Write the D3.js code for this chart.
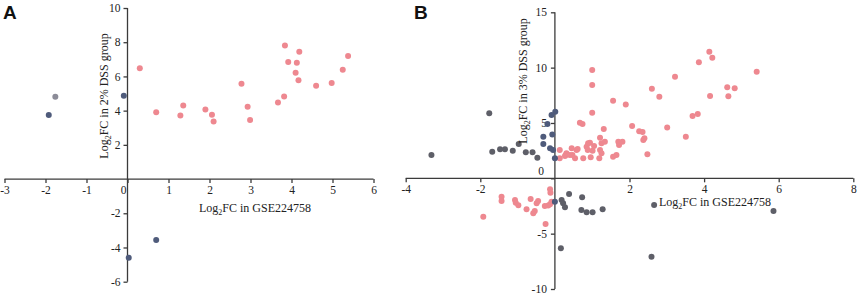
<!DOCTYPE html>
<html>
<head>
<meta charset="utf-8">
<script src="https://cdn.jsdelivr.net/npm/d3@7"></script>
<style>
  body { margin: 0; background: #fff; }
  svg { display: block; }
  .tick text { font-family: "Liberation Serif", "Times New Roman", serif; font-size: 11.5px; fill: #222; }
  .axis path, .axis line { stroke: #3b3b3b; stroke-width: 1.3; }
  .title { font-family: "Liberation Serif", "Times New Roman", serif; font-size: 12px; fill: #222; }
  .panel { font-family: "Liberation Sans", Arial, sans-serif; font-weight: bold; font-size: 19px; fill: #111; }
</style>
</head>
<body>
<svg id="chart" width="858" height="294"></svg>
<script>
// ---- data (log2 fold changes) ----
// panel A: x = GSE224758, y = 2% DSS group
var aUp = [[0.30, 6.48], [0.70, 3.90], [1.29, 3.72], [1.36, 4.30], [1.90, 4.07], [2.06, 3.76],
  [2.10, 3.37], [2.78, 5.57], [2.93, 4.23], [2.99, 3.45], [3.67, 4.48], [3.82, 4.83],
  [3.84, 7.81], [3.92, 6.85], [4.13, 6.80], [4.10, 6.21], [4.17, 5.78], [4.19, 7.44],
  [4.60, 5.45], [4.98, 5.61], [5.25, 6.39], [5.38, 7.20]];
var aGrey = [[-1.76, 4.81]];
var aBlue = [[-1.92, 3.74], [-0.09, 4.87], [0.03, -4.60], [0.70, -3.56]];
var aXTicks = [-3, -2, -1, 0, 1, 2, 3, 4, 5, 6];
var aYTicks = [-6, -4, -2, 2, 4, 6, 8, 10];

// panel B: x = GSE224758, y = 3% DSS group
var bUp = [[0.13, 2.56], [0.13, 1.81], [0.29, 2.10], [0.31, 2.26], [0.27, 2.01], [0.40, 2.10],
  [0.45, 2.71], [0.47, 2.10], [0.58, 2.56], [0.61, 2.65], [0.54, 1.81], [0.76, 1.81],
  [0.96, 1.90], [0.85, 2.86], [0.89, 3.16], [0.94, 3.22], [0.88, 2.56], [1.01, 2.49],
  [1.05, 2.92], [1.21, 2.56], [1.25, 2.26], [1.25, 3.16], [1.34, 3.31], [1.21, 3.67],
  [1.31, 4.45], [1.56, 1.95], [1.65, 2.10], [1.70, 3.31], [1.72, 3.00], [1.81, 3.31],
  [1.19, 1.81], [0.67, 5.02], [0.74, 4.90], [1.00, 5.93], [1.00, 8.43], [1.00, 9.78],
  [1.56, 7.01], [1.90, 6.68], [2.07, 4.72], [2.26, 4.25], [2.35, 4.18], [2.37, 3.46],
  [2.40, 3.61], [2.48, 2.17], [2.60, 8.10], [2.80, 7.37], [3.01, 4.60], [3.51, 3.76],
  [3.69, 5.63], [3.83, 5.81], [4.16, 7.43], [4.14, 11.44], [4.22, 10.90], [3.86, 10.48],
  [5.41, 9.63], [3.22, 9.18], [4.62, 8.22], [4.82, 8.13], [4.65, 7.41]];
var bDown = [[-0.13, -0.99], [-0.12, -1.30], [-1.43, -1.66], [-1.43, -2.05], [-1.07, -1.96],
  [-1.05, -2.20], [-0.98, -2.44], [-0.65, -1.87], [-0.76, -2.80], [-0.58, -3.16],
  [-0.54, -2.95], [-0.49, -2.26], [-0.45, -2.05], [-0.27, -2.50], [-0.18, -2.45],
  [-0.13, -2.35], [-0.09, -2.11], [-0.25, -4.13], [-1.92, -3.47]];
var bGrey = [[-3.31, 2.10], [-1.76, 5.87], [-1.68, 2.40], [-1.47, 2.62], [-1.34, 2.62],
  [-1.13, 2.49], [-0.97, 3.10], [-0.78, 2.35], [-0.60, 2.35], [-0.47, 1.86], [0.18, -1.96],
  [0.22, -2.26], [0.27, -2.62], [0.38, -1.42], [0.73, -1.72], [0.71, -2.86], [0.85, -3.07],
  [1.01, -3.07], [1.28, -2.80], [0.16, -6.32], [2.66, -2.41], [5.86, -2.95], [2.59, -7.08]];
var bBlue = [[0.01, 6.02], [-0.09, 5.72], [-0.20, 4.91], [-0.07, 3.97], [-0.31, 3.76],
  [-0.31, 3.10], [-0.13, 2.71], [-0.05, 2.56], [0.00, 1.81], [0.00, -2.11]];
var bXTicks = [-4, -2, 2, 4, 6, 8];
var bYTicks = [-10, -5, 0, 5, 10, 15];

var pink = "#ee8890", grey = "#5e5f68", lightGrey = "#8c8c98", blue = "#4f5b7b";

var svg = d3.select("#chart");

function drawPanel(opt) {
  var x = d3.scaleLinear().domain(opt.xDomain).range(opt.xRange);
  var y = d3.scaleLinear().domain(opt.yDomain).range(opt.yRange);
  var g = svg.append("g");

  // x axis through y = 0
  var xAxis = d3.axisBottom(x).tickValues(opt.xTicks).tickSize(4).tickSizeOuter(0)
    .tickFormat(function(d) { return d < 0 ? "-" + Math.abs(d) : d; });
  var gx = g.append("g").attr("class", "axis")
    .attr("transform", "translate(0," + y(0) + ")")
    .call(xAxis);
  gx.select(".domain").attr("d", "M" + opt.xRange[0] + ",0H" + opt.xRange[1]);

  // y axis through x = 0
  var yAxis = d3.axisLeft(y).tickValues(opt.yTicks).tickSize(4).tickSizeOuter(0)
    .tickFormat(function(d) { return d < 0 ? "-" + Math.abs(d) : d; });
  var gy = g.append("g").attr("class", "axis")
    .attr("transform", "translate(" + x(0) + ",0)")
    .call(yAxis);
  gy.select(".domain").attr("d", "M0," + opt.yRange[0] + "V" + opt.yRange[1]);
  g.selectAll(".axis").attr("font-family", null);

  if (opt.after) opt.after(gx, gy);

  // points
  opt.groups.forEach(function(grp) {
    g.append("g").selectAll("circle")
      .data(grp.data)
      .enter()
      .append("circle")
      .attr("cx", function(d) { return x(d[0]); })
      .attr("cy", function(d) { return y(d[1]); })
      .attr("r", 3)
      .attr("fill", grp.color);
  });

  // axis titles
  var xt = g.append("text").attr("class", "title")
    .attr("x", opt.xTitle[0]).attr("y", opt.xTitle[1]);
  xt.append("tspan").text("Log");
  xt.append("tspan").attr("font-size", "8px").attr("dy", 2.5).text("2");
  xt.append("tspan").attr("dy", -2.5).text("FC in GSE224758");

  var yt = g.append("text").attr("class", "title")
    .attr("text-anchor", "middle")
    .attr("transform", "translate(" + opt.yTitle[0] + "," + opt.yTitle[1] + ") rotate(-90)");
  yt.append("tspan").text("Log");
  yt.append("tspan").attr("font-size", "8px").attr("dy", 2.5).text("2");
  yt.append("tspan").attr("dy", -2.5).text("FC in " + opt.yLabel + " DSS group");

  g.append("text").attr("class", "panel")
    .attr("x", opt.letter[0]).attr("y", opt.letter[1]).text(opt.name);
}

drawPanel({
  name: "A", letter: [3, 19],
  xDomain: [-3, 6], xRange: [4.5, 373.5],
  yDomain: [-6, 10], yRange: [281.7, 8],
  xTicks: aXTicks, yTicks: aYTicks,
  xTitle: [199, 212], yTitle: [108, 96], yLabel: "2%",
  groups: [{ data: aUp, color: pink }, { data: aGrey, color: lightGrey }, { data: aBlue, color: blue }],
  after: function(gx, gy) {
    gx.selectAll(".tick text").filter(function(d) { return d === 0; }).attr("dx", -4.5);
  }
});

drawPanel({
  name: "B", letter: [414, 19],
  xDomain: [-4, 8], xRange: [405.7, 853.3],
  yDomain: [-10, 15], yRange: [289, 12.3],
  xTicks: bXTicks, yTicks: bYTicks,
  xTitle: [659, 206], yTitle: [527, 81], yLabel: "3%",
  groups: [{ data: bUp, color: pink }, { data: bDown, color: pink }, { data: bGrey, color: grey }, { data: bBlue, color: blue }],
  after: function(gx, gy) {
    gy.selectAll(".tick").filter(function(d) { return d === 0; }).select("text").attr("dy", "-0.3em").attr("dx", -3);
    gy.selectAll(".tick text").attr("x", -8);
  }
});
</script>
</body>
</html>
